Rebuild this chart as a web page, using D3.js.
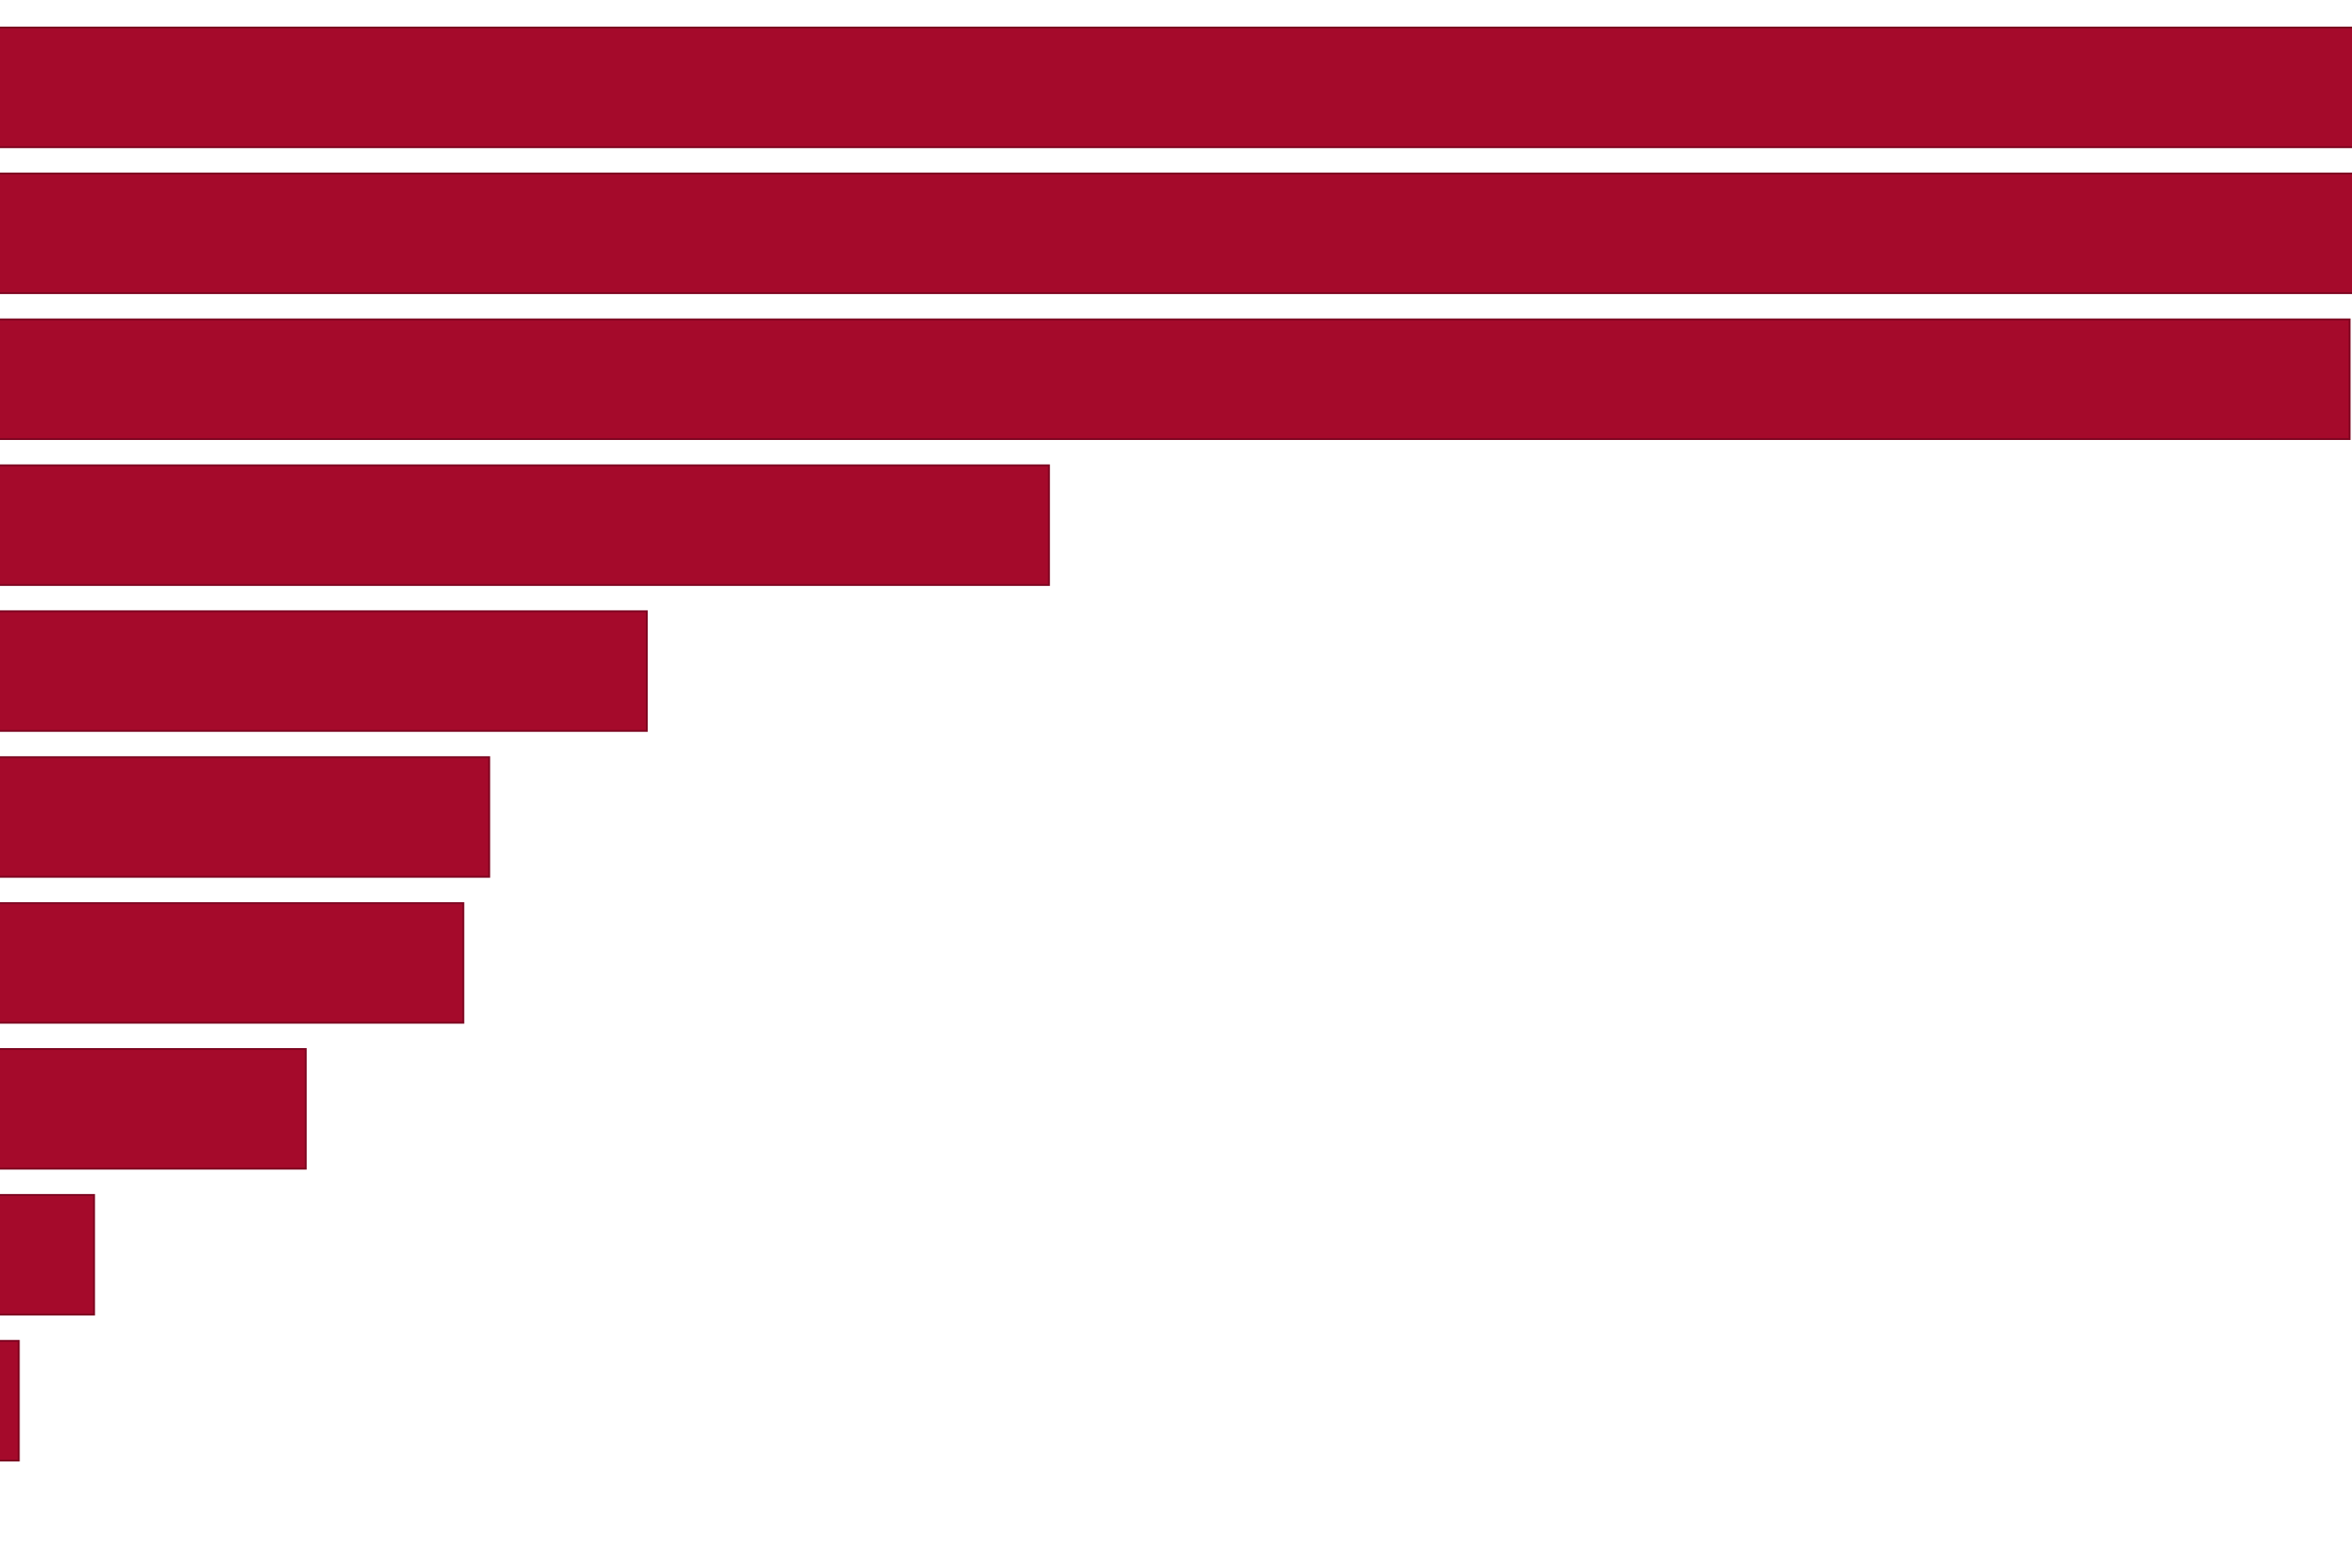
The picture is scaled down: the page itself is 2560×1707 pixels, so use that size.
<!DOCTYPE html>
<html>
<head>
<meta charset="utf-8">
<script src="https://cdn.jsdelivr.net/npm/d3@7"></script>
<style>
  html, body { margin: 0; padding: 0; background: #fff; overflow: hidden; }
  .bar { fill: #a50a2b; stroke: #7d0520; stroke-width: 2; }
</style>
</head>
<body>
<div class="chart"></div>
<script>
// bars, top to bottom (the first two run past the right edge)
const categories = ['A', 'B', 'C', 'D', 'E', 'F', 'G', 'H', 'I', 'J'];
const values = [108, 104, 99.9, 44.6, 27.5, 20.8, 19.7, 13.0, 4.0, 0.8];

const width = 2560, height = 1707;

const data = categories.map((c, i) => ({ name: c, value: values[i] }));

const x = d3.scaleLinear().domain([0, 100]).range([0, width]);
const y = d3.scaleBand()
  .domain(categories)
  .range([30, 1590])
  .paddingInner(0.18)
  .paddingOuter(0);

const svg = d3.select('.chart').append('svg')
  .attr('width', width)
  .attr('height', height);

svg.selectAll('.bar')
  .data(data)
  .enter().append('rect')
  .attr('class', 'bar')
  .attr('x', x(0) - 4)
  .attr('y', d => y(d.name))
  .attr('width', d => x(d.value) + 4)
  .attr('height', y.bandwidth());
</script>
</body>
</html>
